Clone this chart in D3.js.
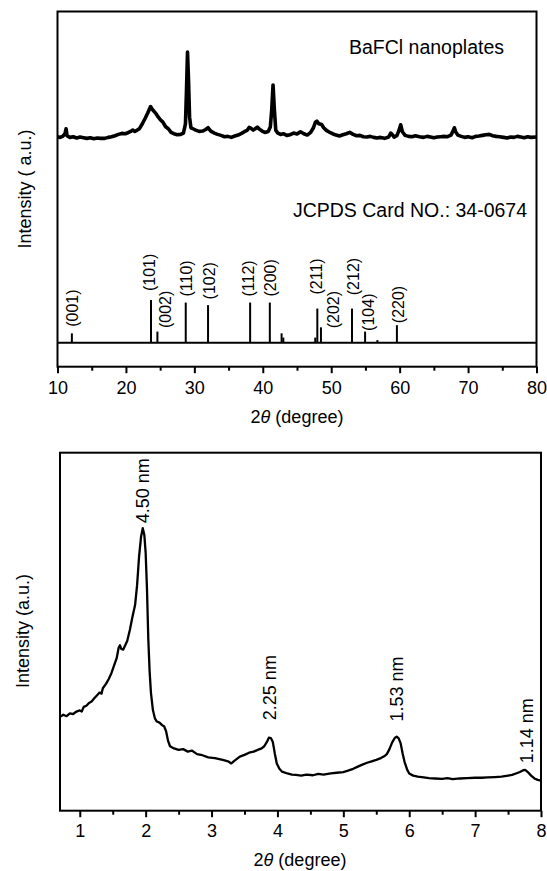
<!DOCTYPE html>
<html>
<head>
<meta charset="utf-8">
<script src="https://cdn.jsdelivr.net/npm/d3@7"></script>
<style>
  html, body { margin: 0; padding: 0; background: #fff; }
  svg { display: block; font-family: "Liberation Sans", Arial, Helvetica, sans-serif; }
</style>
</head>
<body>
<svg id="chart" width="547" height="871"></svg>
<script>
// ---------- XRD pattern of BaFCl nanoplates (2θ in degrees, counts in a.u.) ----------
const xrdTheta = [
  10.0, 10.4, 10.8, 11.1, 11.25, 11.4, 11.8, 12.3, 12.8, 13.3, 13.8, 14.3, 14.8, 15.3, 15.8, 16.3,
  16.9, 17.4, 17.9, 18.4, 18.9, 19.4, 19.9, 20.3, 20.7, 21.0, 21.3, 21.6, 22.0, 22.4, 22.8, 23.2,
  23.6, 23.8, 24.0, 24.3, 24.6, 25.0, 25.4, 25.8, 26.2, 26.6, 27.0, 27.5, 28.0, 28.4, 28.7, 28.85,
  29.0, 29.15, 29.3, 29.5, 29.8, 30.2, 30.7, 31.2, 31.6, 32.0, 32.4, 32.9, 33.4, 33.9, 34.4, 34.9,
  35.4, 35.9, 36.4, 36.9, 37.3, 37.7, 38.0, 38.3, 38.6, 38.9, 39.2, 39.5, 39.9, 40.3, 40.8, 41.1,
  41.3, 41.5, 41.7, 41.9, 42.2, 42.6, 43.0, 43.5, 44.0, 44.5, 45.0, 45.5, 46.0, 46.5, 47.0, 47.4,
  47.7, 47.9, 48.2, 48.6, 48.9, 49.3, 49.7, 50.2, 50.7, 51.2, 51.7, 52.2, 52.7, 53.2, 53.7, 54.2,
  54.7, 55.2, 55.7, 56.2, 56.7, 57.2, 57.8, 58.4, 58.7, 58.9, 59.2, 59.6, 59.9, 60.15, 60.4, 60.8,
  61.3, 61.8, 62.3, 62.9, 63.5, 64.0, 64.5, 65.0, 65.5, 66.0, 66.5, 67.0, 67.5, 67.8, 68.0, 68.2,
  68.5, 69.0, 69.5, 70.0, 70.6, 71.1, 71.6, 72.1, 72.6, 73.1, 73.6, 74.1, 74.6, 75.2, 75.7, 76.2,
  76.7, 77.2, 77.7, 78.2, 78.7, 79.2, 80.0
];
const xrdIntensity = [
  621, 619, 623, 630, 645, 624, 619, 621, 617, 620, 618, 616, 618, 615, 617, 616,
  616, 619, 621, 624, 628, 631, 630, 633, 637, 641, 637, 640, 646, 660, 676, 693,
  712, 705, 700, 693, 684, 673, 665, 651, 645, 634, 630, 627, 628, 632, 660, 760,
  876, 790, 680, 648, 645, 641, 637, 638, 642, 648, 638, 632, 628, 625, 621, 622,
  619, 623, 626, 631, 636, 640, 649, 646, 641, 645, 650, 644, 638, 634, 637, 650,
  700, 777, 700, 640, 632, 628, 630, 625, 627, 632, 629, 636, 630, 626, 634, 648,
  665, 668, 660, 658, 648, 640, 635, 630, 626, 623, 627, 630, 634, 628, 624, 625,
  621, 620, 622, 619, 617, 619, 616, 620, 632, 628, 620, 624, 640, 657, 636, 625,
  622, 621, 624, 621, 619, 622, 620, 618, 620, 621, 622, 621, 626, 638, 648, 635,
  626, 622, 619, 621, 618, 622, 623, 625, 627, 628, 624, 622, 621, 619, 617, 620,
  619, 622, 620, 618, 621, 619, 620
];

// ---------- Standard card JCPDS 34-0674 (2θ, relative intensity %, Miller indices) ----------
const refTheta     = [12.1, 23.66, 24.6, 28.74, 32.0, 38.15, 41.03, 42.75, 43.0, 47.67, 47.97, 48.5, 53.04, 54.95, 56.75, 59.6];
const refIntensity = [22,   100,   26,   94,    88,   94,    94,    22,    12,   12,    80,    36,   80,    26,    6,     41];
const refHkl       = ["(001)", "(101)", "(002)", "(110)", "(102)", "(112)", "(200)", "", "", "", "(211)", "(202)", "(212)", "(104)", "", "(220)"];

// ---------- Small-angle pattern (2θ in degrees, counts in a.u.) ----------
const saxsTheta = [
  0.70, 0.75, 0.80, 0.85, 0.90, 0.95, 1.00, 1.03, 1.06, 1.10, 1.14, 1.18, 1.22, 1.26, 1.30, 1.33,
  1.35, 1.40, 1.44, 1.48, 1.52, 1.56, 1.59, 1.61, 1.63, 1.66, 1.69, 1.72, 1.76, 1.80, 1.84, 1.87,
  1.90, 1.93, 1.956, 1.98, 2.00, 2.02, 2.04, 2.06, 2.08, 2.11, 2.14, 2.17, 2.21, 2.25, 2.28, 2.31,
  2.34, 2.37, 2.43, 2.50, 2.57, 2.64, 2.70, 2.78, 2.86, 2.95, 3.05, 3.17, 3.25, 3.30, 3.35, 3.43,
  3.50, 3.57, 3.64, 3.70, 3.76, 3.80, 3.84, 3.87, 3.90, 3.93, 3.96, 3.99, 4.03, 4.07, 4.15, 4.22,
  4.28, 4.36, 4.44, 4.54, 4.62, 4.70, 4.81, 4.90, 5.00, 5.07, 5.15, 5.22, 5.28, 5.36, 5.43, 5.50,
  5.57, 5.62, 5.66, 5.70, 5.74, 5.78, 5.81, 5.84, 5.87, 5.90, 5.93, 5.97, 6.00, 6.06, 6.13, 6.22,
  6.30, 6.39, 6.50, 6.58, 6.66, 6.77, 6.88, 7.00, 7.10, 7.19, 7.30, 7.40, 7.50, 7.56, 7.62, 7.68,
  7.73, 7.76, 7.80, 7.85, 7.90, 7.95, 8.00
];
const saxsIntensity = [
  262, 268, 264, 272, 270, 277, 280, 277, 290, 293, 301, 305, 314, 322, 330, 327,
  342, 355, 368, 384, 405, 426, 455, 462, 452, 450, 462, 474, 505, 542, 575, 630,
  710, 765, 789, 770, 720, 620, 480, 390, 330, 281, 258, 249, 246, 239, 236, 222,
  195, 180, 174, 170, 172, 165, 168, 158, 155, 149, 147, 142, 138, 132, 140, 151,
  156, 162, 165, 170, 174, 180, 192, 204, 203, 192, 160, 132, 117, 109, 104, 101,
  100, 98, 101, 99, 103, 101, 104, 106, 108, 112, 117, 123, 128, 134, 138, 142,
  147, 152, 158, 172, 190, 203, 207, 202, 188, 160, 136, 114, 104, 98, 95, 93,
  91, 90, 89, 91, 88, 90, 91, 92, 92, 93, 94, 95, 98, 100, 104, 108,
  113, 114, 108, 98, 90, 86, 84
];
// Reflections with their d-spacings
const saxsPeakTheta = [1.956, 3.87, 5.81, 7.76];
const saxsPeakLabel = ["4.50 nm", "2.25 nm", "1.53 nm", "1.14 nm"];

// Axis ticks
const topTicks = [10, 20, 30, 40, 50, 60, 70, 80];
const topMinorTicks = [15, 25, 35, 45, 55, 65, 75];
const bottomTicks = [1, 2, 3, 4, 5, 6, 7, 8];
const bottomMinorTicks = [1.5, 2.5, 3.5, 4.5, 5.5, 6.5, 7.5];

// ================= drawing =================
const svg = d3.select("#chart");
const black = "#000";

function frame(g, x0, x1, y0, y1) {
  g.append("rect")
    .attr("x", x0).attr("y", y0)
    .attr("width", x1 - x0).attr("height", y1 - y0)
    .attr("fill", "none").attr("stroke", black).attr("stroke-width", 2);
}

function xAxes(g, scale, yPos, major, minor, padding) {
  const maj = d3.axisBottom(scale).tickValues(major).tickSize(6.5).tickPadding(padding)
    .tickFormat(d3.format("d"));
  const min = d3.axisBottom(scale).tickValues(minor).tickSize(4).tickFormat("");
  const a = g.append("g").attr("transform", `translate(0,${yPos})`).call(maj);
  const b = g.append("g").attr("transform", `translate(0,${yPos})`).call(min);
  [a, b].forEach(s => {
    s.select(".domain").remove();
    s.selectAll(".tick line").attr("stroke", black).attr("stroke-width", 2);
  });
  a.selectAll(".tick text")
    .attr("fill", black).attr("font-size", 18)
    .attr("font-family", '"Liberation Sans", Arial, sans-serif');
}

function xTitle(g, cx, y) {
  const t = g.append("text").attr("x", cx).attr("y", y)
    .attr("text-anchor", "middle").attr("font-size", 18).attr("fill", black);
  t.append("tspan").text("2");
  t.append("tspan").attr("font-style", "italic").text("θ");
  t.append("tspan").text(" (degree)");
}

function yTitle(g, x, cy, label) {
  g.append("text")
    .attr("transform", `translate(${x},${cy}) rotate(-90)`)
    .attr("text-anchor", "middle").attr("font-size", 18).attr("fill", black)
    .text(label);
}

// ---- Panel 1: wide-angle XRD with standard card ----
const p1 = svg.append("g");
const x1 = d3.scaleLinear().domain([10, 80]).range([57.5, 536.5]);
const y1 = d3.scaleLinear().domain([0, 1000]).range([342.7, 11]);
const yStick = d3.scaleLinear().domain([0, 100]).range([342.7, 300]);

const line1 = d3.line().x(d => x1(d[0])).y(d => y1(d[1]));
p1.append("path")
  .datum(d3.zip(xrdTheta, xrdIntensity))
  .attr("d", line1)
  .attr("fill", "none").attr("stroke", black)
  .attr("stroke-width", 3.6).attr("stroke-linejoin", "round");

// card baseline
p1.append("line")
  .attr("x1", x1(10)).attr("x2", x1(80))
  .attr("y1", yStick(0)).attr("y2", yStick(0))
  .attr("stroke", black).attr("stroke-width", 2);

const refData = d3.zip(refTheta, refIntensity, refHkl);
p1.selectAll("line.stick").data(refData).join("line")
  .attr("class", "stick")
  .attr("x1", d => x1(d[0])).attr("x2", d => x1(d[0]))
  .attr("y1", yStick(0)).attr("y2", d => yStick(d[1]))
  .attr("stroke", black).attr("stroke-width", 2);

// label placement around each stick: [dx, gap above stick top] in px
const hklNudge = {
  "(001)": [1, 6.5], "(101)": [-1.3, 9], "(002)": [7.6, 3.5], "(110)": [0.7, 6],
  "(102)": [1.7, 5.7], "(112)": [-2, 6], "(200)": [0.7, 6], "(211)": [-1.3, 14],
  "(202)": [12.3, -1], "(212)": [1.3, 13.3], "(104)": [3.3, 0.7], "(220)": [1.6, 2]
};
p1.selectAll("text.hkl").data(refData.filter(d => d[2] !== "")).join("text")
  .attr("class", "hkl")
  .attr("transform", d => {
    const n = hklNudge[d[2]];
    return `translate(${x1(d[0]) + n[0]},${yStick(d[1]) - n[1]}) rotate(-90)`;
  })
  .attr("text-anchor", "start").attr("dominant-baseline", "central")
  .attr("font-size", 16).attr("fill", black)
  .text(d => d[2]);

p1.append("text").attr("x", 426.5).attr("y", 54)
  .attr("text-anchor", "middle").attr("font-size", 19.5).attr("fill", black)
  .text("BaFCl nanoplates");
p1.append("text").attr("x", 410).attr("y", 216.5)
  .attr("text-anchor", "middle").attr("font-size", 19.5).attr("fill", black)
  .text("JCPDS Card NO.: 34-0674");

frame(p1, 57.5, 536.5, 11.5, 366.7);
xAxes(p1, x1, 366.7, topTicks, topMinorTicks, 8);
xTitle(p1, 297, 423);
yTitle(p1, 31, 189, "Intensity ( a.u.)");

// ---- Panel 2: small-angle pattern ----
const p2 = svg.append("g");
const x2 = d3.scaleLinear().domain([0.7, 8]).range([60, 541]);
const y2 = d3.scaleLinear().domain([0, 1000]).range([810.7, 452.7]);

const line2 = d3.line().x(d => x2(d[0])).y(d => y2(d[1]));
p2.append("path")
  .datum(d3.zip(saxsTheta, saxsIntensity))
  .attr("d", line2)
  .attr("fill", "none").attr("stroke", black)
  .attr("stroke-width", 2.3).attr("stroke-linejoin", "round");

// peak labels sit above the curve value at each reflection: [dx, gap] in px
const peakNudge = [[0, 5], [1, 17.5], [0.3, 15], [2, 6.7]];
const peakIntensity = saxsPeakTheta.map(t => {
  const i = d3.bisectLeft(saxsTheta, t);
  return saxsIntensity[Math.min(i, saxsIntensity.length - 1)];
});
p2.selectAll("text.peak").data(saxsPeakTheta).join("text")
  .attr("class", "peak")
  .attr("transform", (t, i) =>
    `translate(${x2(t) + peakNudge[i][0]},${y2(peakIntensity[i]) - peakNudge[i][1]}) rotate(-90)`)
  .attr("text-anchor", "start").attr("dominant-baseline", "central")
  .attr("font-size", 18).attr("fill", black)
  .text((t, i) => saxsPeakLabel[i]);

frame(p2, 60, 541, 452.7, 810.7);
xAxes(p2, x2, 810.7, bottomTicks, bottomMinorTicks, 6.7);
xTitle(p2, 300, 866);
yTitle(p2, 29, 631, "Intensity  (a.u.)");
</script>
</body>
</html>
